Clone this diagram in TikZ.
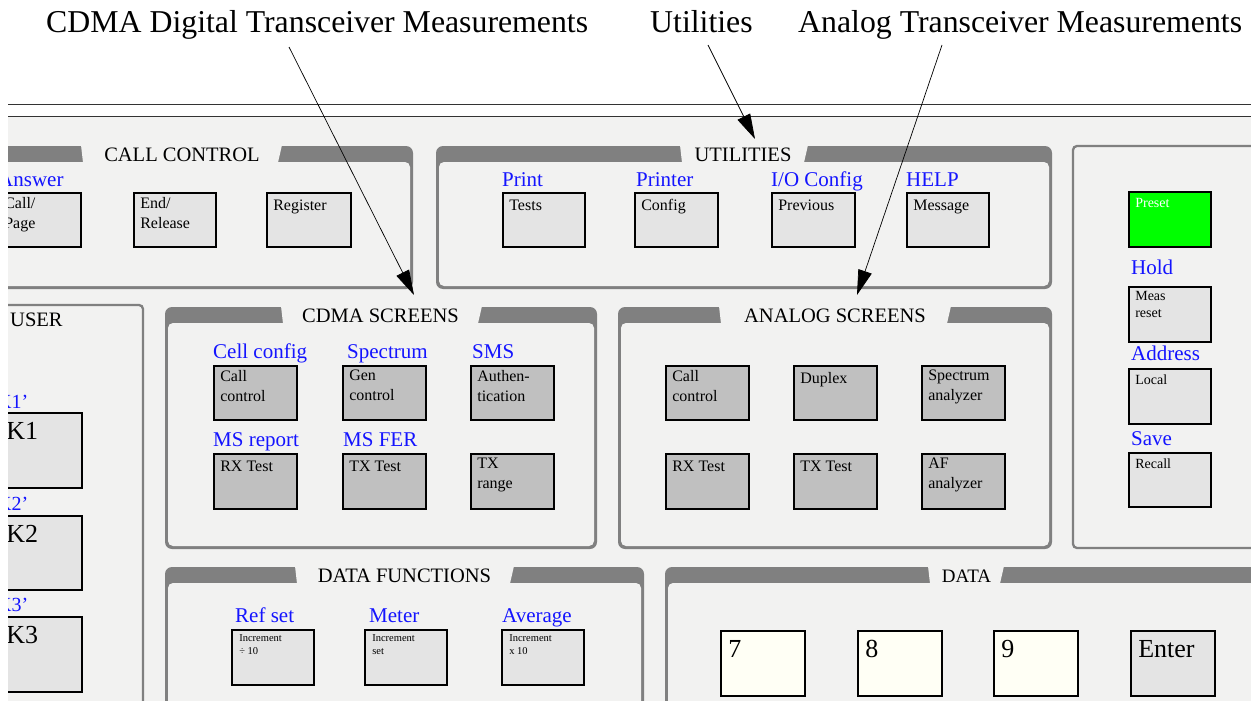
\documentclass[tikz,border=0pt]{standalone}
\usepackage{fontspec}
\setmainfont{Liberation Serif}
\usetikzlibrary{arrows.meta}
\definecolor{panelbg}{RGB}{242,242,241}
\definecolor{framegray}{RGB}{128,128,128}
\definecolor{keylight}{RGB}{228,228,228}
\definecolor{keydark}{RGB}{192,192,192}
\definecolor{keyivory}{RGB}{255,255,245}
\definecolor{keygreen}{RGB}{0,255,0}
\definecolor{labelblue}{RGB}{20,20,255}
\newcommand\fsz[2]{\fontsize{#1}{#2}\selectfont}
\tikzset{
  keyshape/.style={draw=black, line width=2.2pt, anchor=north west, inner sep=0pt, outer sep=0pt},
  kt16/.style={anchor=north west, inner sep=0pt, align=left, font=\fsz{16}{20}, xshift=6pt, yshift=-4pt, execute at begin node={\rule{0pt}{13pt}}},
  kt14/.style={anchor=north west, inner sep=0pt, align=left, font=\fsz{14}{17}, xshift=6pt, yshift=-4pt, execute at begin node={\rule{0pt}{11pt}}},
  kt14w/.style={kt14, text=white},
  kt10/.style={anchor=north west, inner sep=0pt, align=left, font=\fsz{10.5}{13}, xshift=7pt, yshift=-4.5pt, execute at begin node={\rule{0pt}{8.5pt}}},
  kt26/.style={anchor=north west, inner sep=0pt, align=left, font=\fsz{26}{30}, xshift=7pt, yshift=-6pt, execute at begin node={\rule{0pt}{20pt}}},
  kt26u/.style={kt26, xshift=0pt},
  bluelab/.style={anchor=base west, inner sep=0pt, text=labelblue, font=\fsz{21}{25}},
  kbluelab/.style={anchor=base west, inner sep=0pt, text=labelblue, font=\fsz{20}{24}},
  paneltitle/.style={anchor=base, inner sep=0pt, font=\fsz{20.5}{24}},
  thinframe/.style={draw=framegray, line width=2.3pt, rounded corners=4pt},
  topline/.style={draw=black!80, line width=1pt},
  annot/.style={anchor=base west, inner sep=0pt, font=\fsz{31.8}{36}},
  pointer/.style={-{Triangle[length=25pt,width=14pt]}, line width=0.7pt, black},
}
% name, x1, y1, x2, y2, gapL, gapR, titlex, title
\newcommand\tabpanel[9]{%
  \fill[framegray, rounded corners=7pt] (#2,#3) rectangle (#4,#5);
  \fill[panelbg, rounded corners=5pt] (#2+3,#3+16) rectangle (#4-3,#5-3);
  \fill[panelbg] (#6,#3-1) -- (#7,#3-1) -- (#7-4,#3+16.5) -- (#6+2,#3+16.5) -- cycle;
  \node[paneltitle] (#1) at (#8,#3+15) {#9};}
% name, x, y, w, h, fill, text style, text
\newcommand\keybox[8]{%
  \node[keyshape, fill=#6, minimum width={#4-2.2}, minimum height={#5-2.2}] (#1) at (#2+1.1,#3+1.1) {};
  \node[#7] (#1-t) at (#1.north west) {#8};}
\begin{document}
\begin{tikzpicture}[x=1pt,y=-1pt]
\useasboundingbox (0,0) rectangle (1251,701);
\fill[white] (0,0) rectangle (1251,701);
\begin{scope}
\clip (8,0) rectangle (1251,701);
\fill[panelbg] (8,116) rectangle (1251,701);
\draw[topline] (8,104) -- (1251,104);
\draw[topline] (8,116) -- (1251,116);

% panels
\tabpanel{p-call}{-20}{146}{413}{289}{81}{282}{182}{CALL CONTROL}
\tabpanel{p-util}{436}{146}{1052}{289}{680}{808}{743}{UTILITIES}
\draw[thinframe] (1073,146) rectangle (1275,548);
\draw[thinframe] (-20,305) rectangle (143,730);
\node[paneltitle, anchor=base west] (p-user) at (10,326) {USER};
\tabpanel{p-cdma}{165}{307}{597}{549}{281}{482}{380.5}{CDMA SCREENS}
\tabpanel{p-analog}{618}{307}{1052}{549}{719}{951}{835}{ANALOG SCREENS}
\tabpanel{p-datafn}{165}{567}{644}{740}{295}{514}{404.5}{DATA FUNCTIONS}
\tabpanel{p-data}{665}{567}{1285}{740}{928}{1004}{966.5}{\fsz{19}{23}DATA}

% call control keys
\keybox{k-call}{-3}{192}{85}{56}{keylight}{kt16}{Call/\\Page}
\keybox{k-end}{133}{192}{84}{56}{keylight}{kt16}{End/\\Release}
\keybox{k-reg}{266}{192}{86}{56}{keylight}{kt16}{Register}
\node[bluelab] (l-answer) at (-2,186) {Answer};

% utilities keys
\keybox{k-tests}{502}{192}{84}{56}{keylight}{kt16}{Tests}
\keybox{k-config}{634}{192}{85}{56}{keylight}{kt16}{Config}
\keybox{k-prev}{771}{192}{85}{56}{keylight}{kt16}{Previous}
\keybox{k-msg}{906}{192}{84}{56}{keylight}{kt16}{Message}
\node[bluelab] (l-print) at (502,186) {Print};
\node[bluelab] (l-printer) at (636,186) {Printer};
\node[bluelab] (l-io) at (771,186) {I/O Config};
\node[bluelab] (l-help) at (906,186) {HELP};

% right panel keys
\keybox{k-preset}{1128}{191}{84}{57}{keygreen}{kt14w}{Preset}
\keybox{k-meas}{1128}{286}{84}{57}{keylight}{kt14}{Meas\\reset}
\keybox{k-local}{1128}{368}{84}{57}{keylight}{kt14}{Local}
\keybox{k-recall}{1128}{452}{84}{56}{keylight}{kt14}{Recall}
\node[bluelab] (l-hold) at (1131,274) {Hold};
\node[bluelab] (l-address) at (1131,360) {Address};
\node[bluelab] (l-save) at (1131,445) {Save};

% user keys
\keybox{k-k1}{-2}{412}{85}{77}{keylight}{kt26u}{K1}
\keybox{k-k2}{-2}{515}{85}{76}{keylight}{kt26u}{K2}
\keybox{k-k3}{-2}{616}{85}{77}{keylight}{kt26u}{K3}
\node[kbluelab] (l-k1) at (-3,408) {K1’};
\node[kbluelab] (l-k2) at (-3,510) {K2’};
\node[kbluelab] (l-k3) at (-3,611) {K3’};

% CDMA screens keys
\keybox{k-ccall}{213}{365}{85}{56}{keydark}{kt16}{Call\\control}
\keybox{k-cgen}{342}{365}{85}{56}{keydark}{kt16}{Gen\\control}
\keybox{k-cauth}{470}{365}{85}{56}{keydark}{kt16}{Authen-\\tication}
\keybox{k-crx}{213}{453}{85}{57}{keydark}{kt16}{RX Test}
\keybox{k-ctx}{342}{453}{85}{57}{keydark}{kt16}{TX Test}
\keybox{k-ctxr}{470}{453}{85}{57}{keydark}{kt16}{TX\\range}
\node[bluelab] (l-cell) at (213,358) {Cell config};
\node[bluelab] (l-spec) at (347,358) {Spectrum};
\node[bluelab] (l-sms) at (472,358) {SMS};
\node[bluelab] (l-msrep) at (213,446) {MS report};
\node[bluelab] (l-msfer) at (343,446) {MS FER};

% analog screens keys
\keybox{k-acall}{665}{365}{85}{56}{keydark}{kt16}{Call\\control}
\keybox{k-adup}{793}{365}{85}{56}{keydark}{kt16}{Duplex}
\keybox{k-aspec}{921}{365}{85}{56}{keydark}{kt16}{Spectrum\\analyzer}
\keybox{k-arx}{665}{453}{85}{57}{keydark}{kt16}{RX Test}
\keybox{k-atx}{793}{453}{85}{57}{keydark}{kt16}{TX Test}
\keybox{k-aaf}{921}{453}{85}{57}{keydark}{kt16}{AF\\analyzer}

% data functions keys
\keybox{k-ref}{231}{629}{84}{57}{keylight}{kt10}{Increment\\÷ 10}
\keybox{k-meter}{364}{629}{84}{57}{keylight}{kt10}{Increment\\set}
\keybox{k-avg}{501}{629}{84}{57}{keylight}{kt10}{Increment\\x 10}
\node[bluelab] (l-ref) at (235,622) {Ref set};
\node[bluelab] (l-meter) at (369,622) {Meter};
\node[bluelab] (l-avg) at (502,622) {Average};

% data keys
\keybox{k-7}{720}{630}{86}{67}{keyivory}{kt26}{7}
\keybox{k-8}{857}{630}{86}{67}{keyivory}{kt26}{8}
\keybox{k-9}{993}{630}{86}{67}{keyivory}{kt26}{9}
\keybox{k-enter}{1130}{630}{86}{67}{keylight}{kt26}{Enter}
\end{scope}

% annotations
\node[annot] (t-cdma) at (46,33) {CDMA Digital Transceiver Measurements};
\node[annot] (t-util) at (650,33) {Utilities};
\node[annot] (t-analog) at (798,33) {Analog Transceiver Measurements};
\coordinate (s-cdma) at (289,47);
\coordinate (e-cdma) at (414,295);
\coordinate (s-util) at (708,45);
\coordinate (e-util) at (755,139);
\coordinate (s-analog) at (942,45);
\coordinate (e-analog) at (857,295);
\draw[pointer] (s-cdma) -- (e-cdma);
\draw[pointer] (s-util) -- (e-util);
\draw[pointer] (s-analog) -- (e-analog);
\end{tikzpicture}
\end{document}
